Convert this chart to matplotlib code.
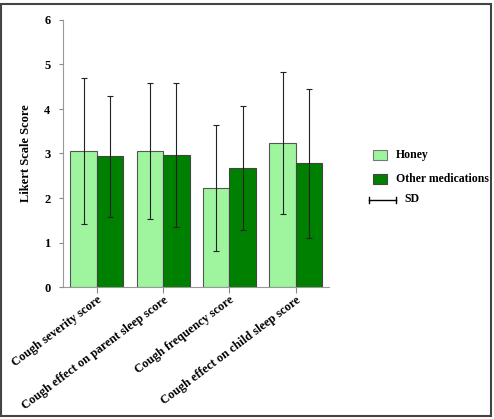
import matplotlib.pyplot as plt
from matplotlib.patches import Rectangle
from matplotlib.lines import Line2D
import numpy as np

# Mean Likert scores and SD
categories = ["Cough severity score", "Cough effect on parent sleep score",
              "Cough frequency score", "Cough effect on child sleep score"]
honey_mean = [3.06, 3.06, 2.22, 3.24]
honey_sd = [1.64, 1.53, 1.42, 1.59]
other_mean = [2.94, 2.97, 2.67, 2.78]
other_sd = [1.36, 1.62, 1.40, 1.68]
series_names = ["Honey", "Other medications"]

honey_color = "#9ef59e"
other_color = "#008000"

plt.rcParams["font.family"] = ["Liberation Serif", "DejaVu Serif"]
plt.rcParams["font.weight"] = "bold"

W, H = 494, 419
fig = plt.figure(figsize=(W / 100, H / 100), dpi=100)
ax = fig.add_axes([63 / W, 1 - 287 / H, 266 / W, 267 / H])

x = np.arange(len(categories))
w = 0.4
err_kw = dict(ecolor="#222222", elinewidth=0.8, capsize=2.5, capthick=0.8)
ax.bar(x - w / 2, honey_mean, w, yerr=honey_sd, color=honey_color,
       edgecolor="#555555", linewidth=0.8, error_kw=err_kw)
ax.bar(x + w / 2, other_mean, w, yerr=other_sd, color=other_color,
       edgecolor="#444444", linewidth=0.8, error_kw=err_kw)

ax.set_xlim(-0.51, 3.5)
ax.set_ylim(0, 6)
ax.set_yticks(range(7))
ax.set_xticks(x)
ax.set_xticklabels(categories, rotation=37, ha="right", rotation_mode="anchor",
                   fontsize=8.8, fontweight="bold")
for lab in ax.get_yticklabels():
    lab.set_fontsize(9)
    lab.set_fontweight("bold")
ax.tick_params(axis="y", length=3, color="#888888", pad=6)
ax.tick_params(axis="x", length=4, color="#888888", pad=1)
ax.set_ylabel("Likert Scale Score", fontsize=9, fontweight="bold", labelpad=9)

for s in ["top", "right"]:
    ax.spines[s].set_visible(False)
for s in ["left", "bottom"]:
    ax.spines[s].set_color("#999999")
    ax.spines[s].set_linewidth(0.8)


# legend drawn by hand, in figure pixels (y from top)
def px(xp, yp):
    return xp / W, 1 - yp / H


def key_box(y, color, edge, label):
    x0, y0 = px(373, y + 5)
    fig.patches.append(Rectangle((x0, y0), 14 / W, 10 / H, transform=fig.transFigure,
                                 facecolor=color, edgecolor=edge, linewidth=0.8))
    fig.text(*px(396, y), label, fontsize=8.5, fontweight="bold", va="center", ha="left")


key_box(155, honey_color, "#777777", series_names[0])
key_box(179, other_color, "#444444", series_names[1])

ys = 200
for xs, ye in [((369, 396), (ys, ys)), ((369, 369), (ys - 3, ys + 3)), ((396, 396), (ys - 3, ys + 3))]:
    p0, p1 = px(xs[0], ye[0]), px(xs[1], ye[1])
    fig.add_artist(Line2D([p0[0], p1[0]], [p0[1], p1[1]], transform=fig.transFigure,
                          color="black", lw=1))
fig.text(*px(404, ys - 1), "SD", fontsize=8.5, fontweight="bold", va="center", ha="left")

# outer frame around the figure
fig.patches.append(Rectangle((1 / W, 3 / H), 490 / W, 412 / H,
                             transform=fig.transFigure, fill=False,
                             edgecolor="#444444", linewidth=1.5))

fig.savefig("out.png", dpi=100)
